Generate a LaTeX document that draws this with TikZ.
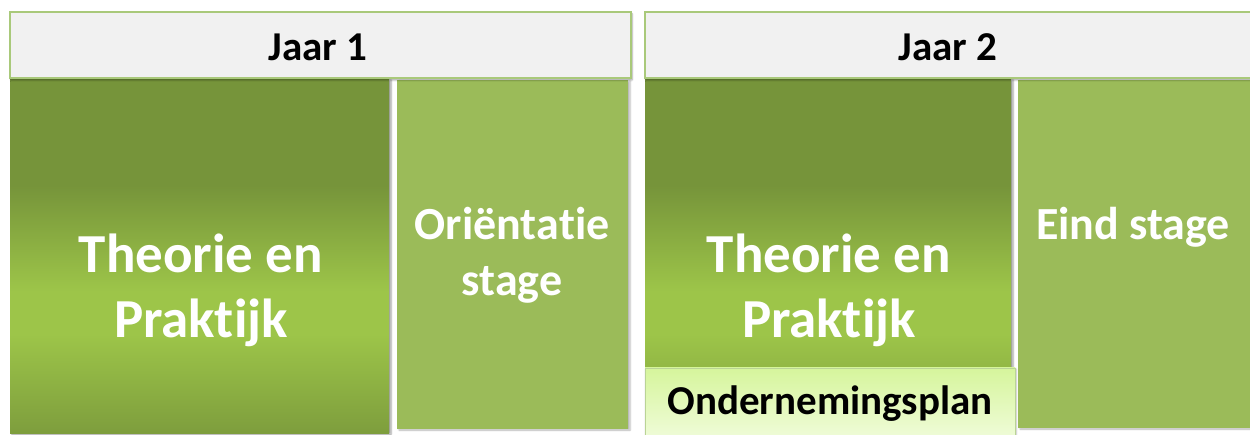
\documentclass[tikz,border=0pt]{standalone}
\usepackage{fontspec}
\setmainfont[Ligatures=NoCommon]{Carlito}
\usetikzlibrary{shadows.blur}
\definecolor{dkgreen}{HTML}{76943A}
\definecolor{brgreen}{HTML}{9DC549}
\definecolor{ltgreen}{HTML}{9BBB59}
\definecolor{hdrfill}{HTML}{F1F1F1}
\definecolor{hdrline}{HTML}{A9C97A}
\definecolor{plantop}{HTML}{D6F59C}
\definecolor{planbot}{HTML}{F0FCDA}
\pgfdeclareverticalshading{tpshade}{100bp}{color(0bp)=(dkgreen!80!brgreen); color(25bp)=(dkgreen!80!brgreen); color(39bp)=(brgreen); color(45bp)=(brgreen); color(60bp)=(dkgreen); color(100bp)=(dkgreen)}
\newcommand{\nolig}{\kern0pt}
\tikzset{
  hdr/.style={draw=hdrline, line width=1.2pt, fill=hdrfill, blur shadow={shadow xshift=1pt, shadow yshift=-2pt, shadow blur steps=4, shadow opacity=40}},
  tpbox/.style={shading=tpshade, blur shadow={shadow xshift=2pt, shadow yshift=-1pt, shadow blur steps=4, shadow opacity=40}},
  stagebox/.style={fill=ltgreen, blur shadow={shadow xshift=2pt, shadow yshift=-1pt, shadow blur steps=4, shadow opacity=30}},
  plan/.style={top color=plantop, bottom color=planbot, draw=hdrline!80, line width=0.8pt, blur shadow={shadow xshift=1pt, shadow yshift=-1pt, shadow blur steps=4, shadow opacity=30}},
  hdrtext/.style={font=\bfseries\fontsize{41}{48}\selectfont, text=black},
  bigtext/.style={font=\bfseries\fontsize{55}{65}\selectfont, text=white, align=center},
  midtext/.style={font=\bfseries\fontsize{46}{56}\selectfont, text=white, align=center},
  plantext/.style={font=\bfseries\fontsize{41}{48}\selectfont, text=black}
}
\begin{document}
\begin{tikzpicture}[x=1pt,y=-1pt]
\useasboundingbox (0,0) rectangle (1250,435);
% year 1
\path[tpbox] (10,79) rectangle (389,433);
\path[stagebox] (397,80) rectangle (628,429);
\path[hdr] (10,12) rectangle (631,78);
\node[hdrtext] (j1) at (318,47) {Jaar 1};
\node[bigtext] (tp1) at (201,290) {Theorie en\\Prakt\nolig ijk};
\node[midtext] (os) at (512,255) {Oriënt\nolig at\nolig ie\\stage};
% year 2
\path[tpbox] (645,79) rectangle (1011,433);
\path[stagebox] (1018,80) rectangle (1250,428);
\path[hdr] (645,12) rectangle (1262,78);
\node[hdrtext] (j2) at (948,47) {Jaar 2};
\node[bigtext] (tp2) at (829,290) {Theorie en\\Prakt\nolig ijk};
\node[midtext] (es) at (1133,227) {Eind stage};
\path[plan] (645,368) rectangle (1015,440);
\node[plantext] (op) at (830,404) {Ondernemingsplan};
\end{tikzpicture}
\end{document}
